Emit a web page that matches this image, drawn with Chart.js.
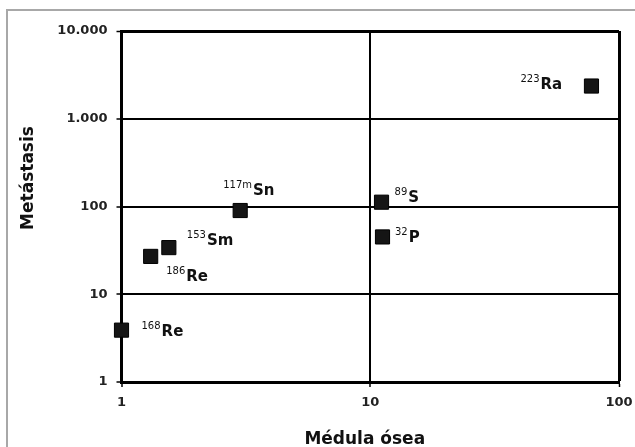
<!DOCTYPE html>
<html>
<head>
<meta charset="utf-8">
<script src="https://cdn.jsdelivr.net/npm/chart.js@4"></script>
<style>
  html, body { margin: 0; padding: 0; background: #fff; overflow: hidden; }
  #wrap { position: relative; width: 635px; height: 447px; }
  #frame { position: absolute; left: 6px; top: 9px; width: 700px; height: 500px;
           border: 2px solid #a8a8a8; box-sizing: border-box; }
  canvas { position: absolute; left: 0; top: 0; }
</style>
</head>
<body>
<div id="wrap">
  <div id="frame"></div>
  <canvas id="c" width="635" height="447"></canvas>
</div>
<script>
// Radioisotopes: mass number (superscript) and element symbol
const massNumbers = ['168', '186', '153', '117m', '89', '32', '223'];
const symbols = ['Re', 'Re', 'Sm', 'Sn', 'S', 'P', 'Ra'];

// Dose ratios (log-log)
const marrowDose = [1.0, 1.31, 1.55, 3.0, 11.1, 11.2, 77.5];
const metastasisDose = [3.9, 27, 34, 90, 112, 45, 2360];

// Axis ticks
const xTickValues = [1, 10, 100];
const xTickLabels = ['1', '10', '100'];
const yTickValues = [1, 10, 100, 1000, 10000];
const yTickLabels = ['1', '10', '100', '1.000', '10.000'];

// Label placement relative to each marker, in pixels: [dx, dy of symbol baseline]
const labelOffsets = [[20, 6], [15.5, 24.5], [18, -3], [-17, -15.5], [13, 0], [12.5, 4.7], [-71, 3]];

const FONT = 'DejaVu Sans';

// Isotope names with superscript mass number next to each marker
const isotopeLabels = {
  id: 'isotopeLabels',
  afterDatasetsDraw(chart) {
    const ctx = chart.ctx;
    const pts = chart.getDatasetMeta(0).data;
    ctx.save();
    ctx.fillStyle = '#111';
    ctx.textAlign = 'left';
    ctx.textBaseline = 'alphabetic';
    pts.forEach((p, i) => {
      const [dx, dy] = labelOffsets[i];
      let x = p.x + dx;
      const y = p.y + dy;
      ctx.font = '10px "' + FONT + '"';
      ctx.fillText(massNumbers[i], x, y - 7);
      x += ctx.measureText(massNumbers[i]).width + 1;
      ctx.font = 'bold 15px "' + FONT + '"';
      ctx.fillText(symbols[i], x, y);
    });
    ctx.restore();
  }
};

// Axis titles
const axisCaptions = {
  id: 'axisCaptions',
  afterDraw(chart) {
    const { ctx, chartArea: a } = chart;
    ctx.save();
    ctx.fillStyle = '#111';
    ctx.font = 'bold 17px "' + FONT + '"';
    ctx.textAlign = 'center';
    ctx.textBaseline = 'alphabetic';
    ctx.fillText('Médula ósea', (a.left + a.right) / 2 - 5.5, a.bottom + 62);
    ctx.translate(33, (a.top + a.bottom) / 2 - 28.5);
    ctx.rotate(-Math.PI / 2);
    ctx.fillText('Metástasis', 0, 0);
    ctx.restore();
  }
};

const tickFont = { family: FONT, size: 13, weight: 'bold' };

new Chart(document.getElementById('c'), {
  type: 'scatter',
  data: {
    datasets: [{
      data: marrowDose.map((x, i) => ({ x: x, y: metastasisDose[i] })),
      pointStyle: 'rect',
      pointRadius: 10,
      pointHoverRadius: 10,
      backgroundColor: '#151515',
      borderColor: '#000',
      borderWidth: 1,
      clip: false
    }]
  },
  options: {
    responsive: false,
    animation: false,
    devicePixelRatio: 1,
    events: [],
    layout: { padding: { left: 0, top: 31, right: 16, bottom: 0 } },
    plugins: { legend: { display: false }, tooltip: { enabled: false } },
    scales: {
      x: {
        type: 'logarithmic',
        min: 1,
        max: 100,
        afterBuildTicks: s => { s.ticks = xTickValues.map(v => ({ value: v })); },
        afterFit: s => { s.height = 65; s.paddingLeft = 0; s.paddingRight = 0; },
        ticks: {
          callback: (v, i) => xTickLabels[i],
          font: tickFont,
          color: '#222',
          padding: 8,
          maxRotation: 0,
          autoSkip: false
        },
        grid: {
          color: '#000',
          lineWidth: c => (c.tick && c.tick.value === 100 ? 3 : 2),
          tickLength: 5,
          tickColor: '#000',
          tickWidth: 1.5
        },
        border: { display: true, color: '#000', width: 3 }
      },
      y: {
        type: 'logarithmic',
        min: 1,
        max: 10000,
        afterBuildTicks: s => { s.ticks = yTickValues.map(v => ({ value: v })); },
        afterFit: s => { s.width = 121.5; s.paddingTop = 0; s.paddingBottom = 0; },
        ticks: {
          callback: (v, i) => yTickLabels[i],
          font: tickFont,
          color: '#222',
          padding: 9,
          autoSkip: false
        },
        grid: {
          color: '#000',
          lineWidth: c => (c.tick && c.tick.value === 10000 ? 3 : 2),
          tickLength: 5,
          tickColor: '#000',
          tickWidth: 1.5
        },
        border: { display: true, color: '#000', width: 3 }
      }
    }
  },
  plugins: [isotopeLabels, axisCaptions]
});
</script>
</body>
</html>
